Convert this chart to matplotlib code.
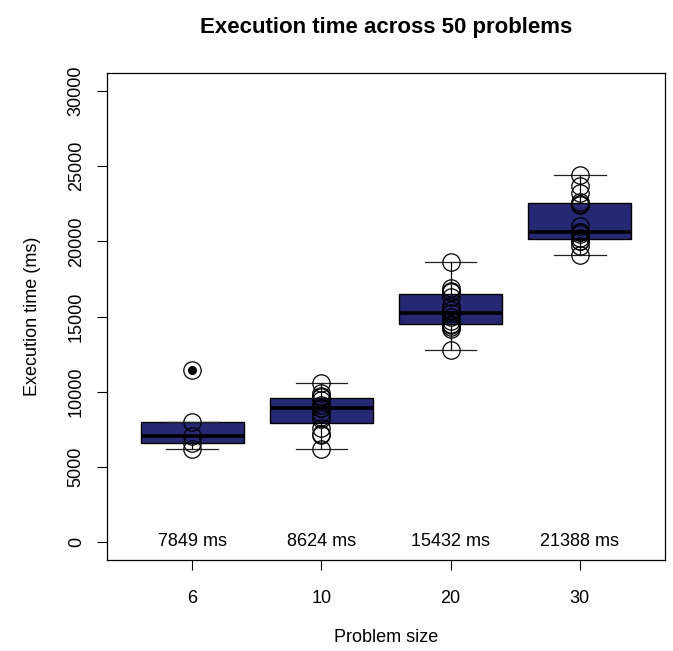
import matplotlib
matplotlib.use("Agg")
import matplotlib.pyplot as plt

plt.rcParams["font.family"] = ["Liberation Sans", "DejaVu Sans"]

# ── Data ─────────────────────────────────────────────────────────────────────
sizes = ["6", "10", "20", "30"]

times_6 = [6180, 6580, 7070, 8000, 11415]
times_10 = [6200, 7100, 7200, 7600, 8200, 8300, 8600, 8900, 8910,
            9100, 9450, 9650, 9700, 9900, 10550]
times_20 = [12780, 14150, 14300, 14450, 14520, 14700, 15000, 15220, 15450,
            15700, 16300, 16660, 16700, 16900, 18650]
times_30 = [19120, 19700, 20030, 20050, 20230, 20500, 20600, 20650, 21000,
            22450, 22500, 22650, 23200, 23700, 24440]

mean_labels = [7849, 8624, 15432, 21388]

BOX_FILL = "#262873"

groups = [times_6, times_10, times_20, times_30]
positions = list(range(1, len(groups) + 1))

fig = plt.figure(figsize=(6.73, 6.51), dpi=100)
ax = fig.add_axes([107 / 673, 1 - 560 / 651, 558 / 673, 487 / 651])

ax.boxplot(
    groups, positions=positions, widths=0.8, capwidths=0.4,
    patch_artist=True,
    boxprops=dict(facecolor=BOX_FILL, edgecolor="black", linewidth=1),
    medianprops=dict(color="black", linewidth=2.6, solid_capstyle="butt"),
    whiskerprops=dict(color="black", linewidth=0.9),
    capprops=dict(color="#222222", linewidth=0.9),
    flierprops=dict(marker="o", markerfacecolor="black",
                    markeredgecolor="black", markersize=5.5),
)

# raw observations on top
for pos, vals in zip(positions, groups):
    ax.plot([pos] * len(vals), vals, linestyle="none", marker="o",
            markersize=12.5, markerfacecolor="none",
            markeredgecolor="black", markeredgewidth=0.9)

for pos, m in zip(positions, mean_labels):
    ax.text(pos, 0, f"{m} ms", ha="center", va="center", fontsize=13)

ax.set_xlim(0.34, 4.66)
ax.set_ylim(-1200, 31200)
ax.set_xticks(positions)
ax.set_xticklabels(sizes)
ax.set_yticks(range(0, 30001, 5000))
ax.tick_params(axis="x", length=7, width=0.8, pad=14.5, labelsize=13)
ax.tick_params(axis="y", length=7, width=0.8, pad=9, labelsize=13)
for lab in ax.get_yticklabels():
    lab.set_rotation(90)
    lab.set_va("center")
for spine in ax.spines.values():
    spine.set_linewidth(0.9)

ax.set_xlabel("Problem size", fontsize=13, va="center")
ax.xaxis.set_label_coords(0.5, (560 - 638) / 487)
ax.set_ylabel("Execution time (ms)", fontsize=13, va="center")
ax.yaxis.set_label_coords((33 - 107) / 558, 0.5)

ax.set_title("Execution time across 50 problems", fontsize=16,
             fontweight="bold", y=(560 - 27) / 487, va="center", pad=0)

fig.savefig("out.png", dpi=100)
